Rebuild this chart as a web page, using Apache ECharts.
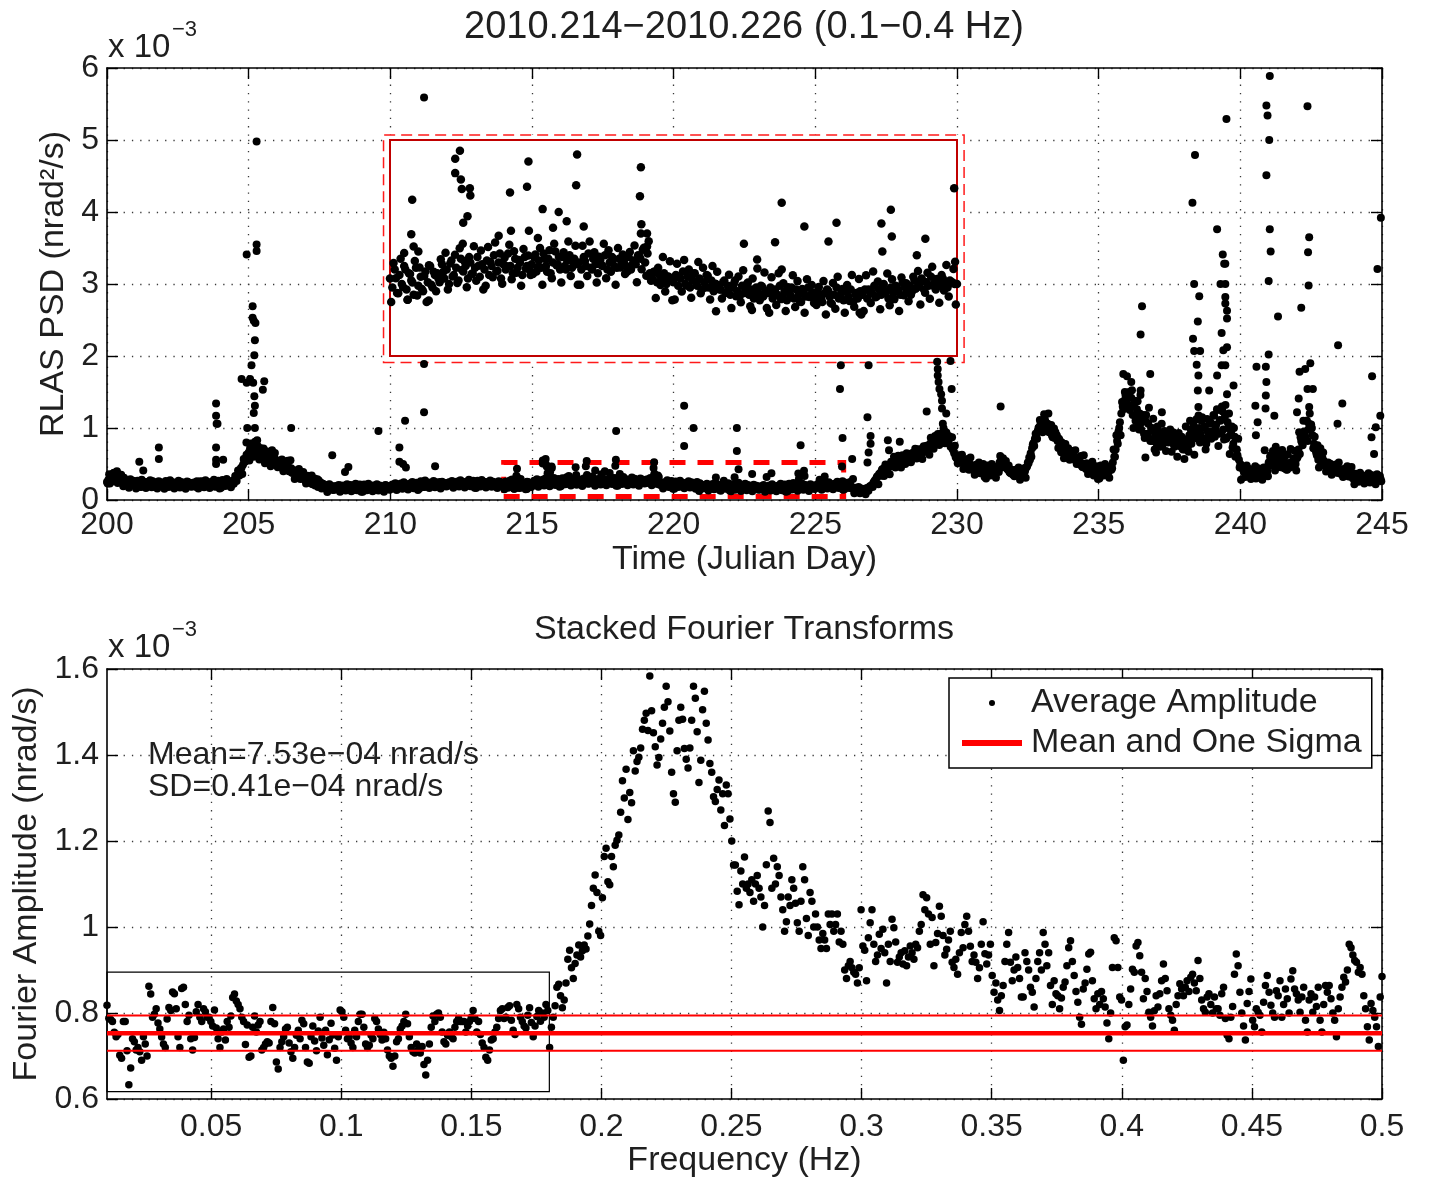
<!DOCTYPE html>
<html>
<head>
<meta charset="utf-8">
<script src="https://cdn.jsdelivr.net/npm/echarts/dist/echarts.min.js"></script>
<style>html,body{margin:0;padding:0;background:#fff;}#chart{width:1430px;height:1182px;}</style>
</head>
<body>
<div id="chart"></div>
<script>
// ---------------- DATA ----------------
// Top panel: RLAS PSD (x 1e-3 nrad^2/s), values stored in thousandths of the axis unit
const psdStart = 200;
const psdStep = 0.05; // day
// samples at 200.000, 200.050, ...
const psdBand = [
250,280,230,300,340,380,320,400,360,300,350,280,310,260,230,270,220,250,210,240,
220,190,240,210,180,230,200,220,250,190,230,210,260,220,180,200,240,210,190,220,
210,180,220,200,240,190,210,230,180,220,200,240,210,190,230,200,220,250,210,190,
220,200,240,180,210,230,260,200,220,190,240,210,230,200,250,220,190,210,240,200,
230,200,240,210,220,250,210,230,260,240,280,310,340,360,410,450,490,530,580,620,
660,720,630,780,700,650,740,680,600,710,640,580,660,610,550,630,570,520,590,540,
500,550,470,520,440,490,530,420,460,400,440,380,410,360,390,340,370,320,350,300,
290,260,310,240,270,220,250,200,230,180,210,240,190,170,200,160,190,220,180,150,
170,190,150,180,160,200,140,170,190,150,180,160,210,170,140,180,160,190,150,170,
160,180,140,170,190,150,180,160,200,170,150,180,160,190,170,140,180,200,160,170,
180,200,160,190,170,210,180,220,190,170,200,180,210,190,230,200,180,210,190,220,
200,220,190,210,180,230,200,220,240,210,190,220,200,230,210,250,220,200,230,210,
220,240,210,230,200,250,220,240,210,260,230,210,240,220,250,230,200,220,240,210,
230,210,240,220,200,230,210,250,220,240,210,230,200,220,240,210,230,250,220,200,
215,190,240,175,225,200,250,185,230,210,170,245,195,220,180,235,205,250,190,225,
230,205,255,215,240,200,265,225,245,210,270,235,250,215,260,230,245,275,220,255,
240,265,225,250,280,235,260,215,255,240,285,250,230,270,245,260,225,275,250,240,
255,275,235,265,245,285,250,270,230,260,290,255,240,275,250,265,280,245,270,255,
260,240,275,250,285,245,270,255,230,265,250,280,240,260,275,250,245,270,255,265,
250,275,240,265,255,280,270,295,260,285,230,215,235,205,225,210,230,200,220,215,
205,225,195,215,235,200,220,190,210,230,195,215,185,205,225,190,210,180,200,195,
185,205,175,195,170,190,210,180,165,195,175,200,170,185,160,190,175,195,165,180,
175,190,160,185,170,195,165,180,155,175,190,160,185,170,150,180,165,190,170,175,
160,180,170,150,175,185,165,145,170,190,160,175,155,180,165,185,150,170,160,180,
170,185,160,180,175,195,165,185,170,200,180,160,190,175,195,185,170,205,190,180,
195,180,210,190,200,215,185,205,195,220,200,185,210,195,215,200,190,210,205,200,
200,190,210,180,170,190,160,150,170,140,150,130,140,120,150,130,160,140,170,190,
210,240,270,300,330,360,380,420,400,450,430,480,460,500,470,520,490,540,510,550,
530,570,550,600,560,620,580,640,590,650,610,670,630,690,650,710,660,720,680,740,
720,780,740,820,760,850,790,880,810,920,840,960,860,900,800,860,740,700,650,600,
580,620,540,590,510,560,480,530,460,500,440,480,420,470,400,450,380,430,410,390,
380,430,360,410,350,400,440,380,420,470,520,480,560,530,500,450,420,390,370,410,
360,400,350,390,340,380,420,370,400,450,520,590,650,720,790,850,910,960,1010,1060,
1100,1050,1120,980,1060,940,1000,900,950,860,900,820,850,770,800,720,750,680,700,640,
660,600,620,560,580,520,540,490,510,460,480,430,450,410,430,390,420,380,400,370,
390,360,410,350,400,370,430,390,460,420,520,600,700,820,950,1080,1200,1300,1380,1450,
1350,1480,1250,1420,1180,1330,1100,1260,1050,1200,980,1150,920,1100,880,1060,850,1000,820,950,
900,780,950,820,880,760,920,840,870,800,940,810,880,770,860,800,830,750,800,720,
780,700,820,740,900,980,860,1050,950,1120,880,1000,920,1150,850,1020,780,950,880,1080,
950,1180,880,1050,1250,920,1100,1300,980,1150,850,1080,1200,900,1020,780,880,700,620,560,
500,450,420,380,400,350,370,330,360,310,340,300,350,320,380,340,410,370,450,400,
520,600,480,680,560,740,620,500,580,460,520,440,500,420,480,450,520,470,540,500,
580,700,640,820,760,950,880,1100,980,1200,1050,900,780,700,620,560,600,520,580,540,
500,460,520,440,490,420,470,400,450,380,430,360,410,350,390,340,380,330,360,320,
350,310,340,290,330,280,320,270,310,260,300,250,290,270,310,260,300,280,320,290
];
// interleaved samples at 200.025, 200.075, ...
const psdBand2 = [
230,356,307,258,370,279,335,237,321,293,303,191,282,212,254,170,289,226,268,205,
160,268,226,184,280,202,250,166,238,214,274,178,256,196,232,160,262,208,244,190,
155,263,221,179,275,197,245,161,233,209,269,173,251,191,227,155,257,203,239,185,
190,244,208,262,160,232,196,256,178,274,214,238,166,250,202,280,184,226,268,160,
170,278,236,194,290,212,260,176,248,224,334,264,410,340,440,360,570,530,630,590,
550,784,693,602,810,641,745,563,719,667,717,509,678,548,626,470,691,574,652,535,
455,536,482,563,400,508,454,544,398,551,380,400,290,410,310,430,290,350,390,280,
230,338,295,254,340,262,300,226,288,270,236,158,226,164,202,110,212,158,194,140,
142,192,159,208,115,181,148,203,131,220,164,186,120,197,153,225,137,175,214,115,
115,214,175,137,225,153,197,120,186,164,220,131,203,148,181,115,208,159,192,142,
167,217,184,233,140,206,173,228,156,245,189,211,145,222,178,250,162,200,239,140,
160,259,220,182,270,198,242,165,231,209,264,176,248,193,226,160,253,204,237,187,
197,247,214,263,170,236,203,258,186,275,219,241,175,252,208,280,192,230,269,170,
167,266,227,189,277,205,249,172,238,216,271,183,255,200,233,167,260,211,244,194,
150,258,216,174,270,192,240,156,228,204,264,168,246,186,222,150,252,198,234,180,
215,269,233,287,185,257,221,281,203,299,239,263,191,275,227,305,209,251,293,185,
195,303,261,219,315,237,285,201,273,249,309,213,291,231,267,195,297,243,279,225,
228,282,246,300,198,270,234,294,216,312,252,276,204,288,240,318,222,264,306,198,
198,306,264,222,318,240,288,204,276,252,312,216,294,234,270,198,300,246,282,228,
235,289,253,307,205,277,241,301,223,319,209,233,161,245,197,275,179,221,263,155,
157,256,218,179,267,196,240,162,229,207,261,174,245,190,223,157,250,201,234,185,
160,210,177,226,133,199,166,221,149,238,182,204,138,215,171,243,155,193,232,133,
120,219,180,142,230,158,202,125,191,169,224,136,208,153,186,120,213,164,197,147,
142,192,159,208,115,181,148,203,131,220,164,186,120,197,153,225,137,175,214,115,
125,224,185,147,235,163,207,130,196,174,229,141,213,158,191,125,218,169,202,152,
170,220,187,236,143,209,176,231,159,248,193,214,148,225,182,253,165,203,242,143,
150,240,205,170,250,170,175,95,145,125,180,95,160,110,145,80,165,130,190,190,
180,252,234,322,220,348,336,432,334,492,412,474,358,530,476,600,452,538,614,510,
450,622,559,500,650,596,640,524,654,624,711,577,704,618,694,570,748,676,754,700,
630,864,773,712,890,821,915,763,919,887,997,789,938,788,886,740,871,722,752,585,
510,600,540,630,430,540,480,570,420,590,440,470,350,490,390,520,370,440,500,320,
300,480,410,340,500,370,450,310,430,390,610,450,580,480,540,430,480,380,420,350,
330,420,360,450,280,400,340,440,310,470,510,560,600,770,750,920,850,1000,1110,1000,
940,1192,1084,986,1200,970,1040,870,992,940,896,722,828,662,776,580,778,650,720,560,
590,680,600,690,500,590,520,610,460,620,470,510,360,490,380,530,340,400,470,290,
300,480,410,340,500,370,450,310,430,440,700,600,900,780,1000,900,1360,1260,1500,1350,
1275,1500,1300,1525,1000,1380,1130,1370,980,1460,1080,1180,860,1180,920,1280,820,1000,1130,700,
660,1020,880,740,1060,790,960,680,920,840,980,670,940,740,860,600,930,760,880,700,
570,1020,845,670,1100,780,980,630,925,855,1175,800,1100,850,1010,700,1125,900,1060,850,
900,1170,990,1260,750,1110,930,1230,840,1320,870,1000,640,950,730,1000,600,700,850,450,
280,460,390,320,480,350,430,290,410,370,470,310,440,340,400,280,450,360,420,330,
485,620,530,665,410,590,500,650,455,695,545,605,425,635,515,710,470,575,680,410,
600,940,870,800,1100,940,1100,820,1060,980,1000,720,880,660,760,450,720,540,660,480,
395,476,422,503,350,458,404,494,377,521,390,417,320,435,363,470,328,400,460,300,
220,364,308,252,380,276,340,228,324,292,372,244,348,268,316,220,356,284,332,260
];
// Isolated high readings [day, value in thousandths]
const psdSpikes = [
[201.14,530],[201.28,410],[201.83,730],[201.83,570],[203.85,1340],[203.85,1170],[203.87,1060],[203.9,1060],
[203.85,730],[203.85,560],[203.85,500],[204.1,560],[204.93,3410],[205.28,3550],[205.28,3460],[205.28,4980],
[205.14,2690],[205.14,2530],[205.18,2490],[205.24,2460],[205.22,2220],[205.2,2010],[205.1,1870],[204.75,1680],
[204.93,1630],[205.05,1680],[205.16,1630],[205.55,1650],[205.5,1530],[205.2,1440],[205.22,1310],[205.18,1210],
[205.22,1000],[204.95,1000],[204.92,800],[205.3,830],[206.5,1000],[207.95,620],[208.52,460],[208.4,390],
[209.58,960],[210.32,730],[210.32,530],[210.45,500],[210.55,450],[210.52,1100],[211.19,1220],[211.19,1890],
[211.19,5590],[211.58,470],
[214.47,434],[214.45,338],[214.5,304],[214.3,286],[214.6,290],[214.82,154],[214.37,156],
[215.38,548],[215.48,570],[215.38,508],[215.5,490],[215.52,464],[215.69,466],[215.7,446],[215.64,388],[215.55,370],[215.54,312],
[216.54,454],[216.9,470],[216.93,540],[217.23,408],[217.57,400],[217.74,374],[217.45,356],[218.1,360],[216.56,348],[216.3,334],[216.94,348],[217.13,328],
[217.96,560],[217.94,474],[217.97,960],
[219.31,524],[219.29,444],[219.32,366],[219.31,340],[219.44,340],[219.44,304],
[220.37,1310],[220.7,1000],[220.37,750],[220.9,124],
[221.49,312],[221.77,268],[221.66,128],[222.29,426],[222.15,316],[222.29,240],[222.23,1000],[222.23,680],
[222.77,360],[223.28,318],[223.45,370],[223.94,120],
[224.4,368],[224.6,406],[224.62,332],[224.42,290],[224.48,760],
[225.33,326],[225.15,280],[225.94,466],[225.96,262],[225.87,1540],[225.9,1870],[225.96,860],
[226.88,1870],[226.84,1150],[226.95,890],[226.95,780],[226.88,660],[226.84,520],[226.3,570],[226.33,290],
[227.56,830],[227.98,810],[227.6,690],
[228.93,1230],[229.3,1920],[229.32,1820],[229.32,1730],[229.35,1640],[229.38,1540],[229.44,1470],[229.47,1380],
[229.47,1270],[229.62,1200],[229.5,1060],[229.77,1930],[229.81,1540],
[231.54,1300],[233.81,770],
[235.87,1750],[236.0,1720],[236.15,1640],[236.48,1520],[236.48,2300],[236.53,2690],[236.82,1750],[237.23,1220],[236.65,590],
[238.31,4130],[238.4,4790],[238.37,3000],[238.55,2830],[238.5,2480],[238.33,2240],[238.37,2070],[238.58,2070],
[238.46,1880],[238.52,1730],[238.5,1520],[238.52,1290],[238.9,1520],
[239.18,3760],[239.38,3410],[239.43,3280],[239.47,3280],[239.3,3000],[239.47,3000],[239.47,2820],[239.47,2730],
[239.53,2630],[239.53,2520],[239.34,2320],[239.53,2120],[239.4,2080],[239.18,1730],[239.34,1870],[239.47,1870],
[239.53,1470],[239.76,1590],[239.51,5290],
[240.57,1850],[240.9,1850],[240.92,1640],[240.9,1450],[240.89,1270],[240.92,5480],[240.96,5340],[241.02,5000],
[240.92,4510],[241.04,5890],[241.04,3760],[241.07,3450],[241.0,3040],[241.0,2020],[241.2,1170],[241.33,2550],
[240.61,1080],[240.53,1310],[240.55,900],[240.86,690],
[242.37,5470],[242.43,3650],[242.39,3440],[242.41,2980],[242.15,2670],[242.09,1780],[242.29,1820],[242.47,1900],
[242.37,1540],[242.56,1540],[242.06,1410],[242.43,1290],[242.0,1220],[243.45,2150],[243.6,1340],[243.43,1060],
[244.65,1720],[244.84,3210],[244.96,3920],[244.63,870],[244.78,1010],[244.94,1170],[244.72,640]
];

// Bottom panel: stacked Fourier amplitude (x 1e-3 nrad/s), stored in thousandths
const fftStart = 0.01;
const fftStep = 0.0007; // Hz
const fftAmp = [
818,788,785,780,755,745,750,702,695,780,
780,712,633,672,740,733,714,720,710,690,
745,728,700,862,844,790,797,810,777,763,
744,728,720,786,813,806,849,845,810,745,
720,857,860,820,780,795,740,714,743,803,
820,790,780,810,803,790,790,780,770,807,
765,740,720,756,763,737,780,767,793,836,
844,828,820,810,790,780,727,772,697,700,
767,793,756,772,780,714,720,728,733,730,
780,813,775,686,670,720,733,745,763,767,
730,710,695,720,748,760,740,783,775,720,
686,683,745,770,735,712,758,790,742,725,
760,703,738,776,749,718,690,745,807,803,
790,760,740,745,730,720,760,745,780,797,
797,767,728,720,725,748,740,787,780,763,
750,737,755,740,714,700,695,676,700,733,
740,763,770,780,797,775,745,720,710,707,
728,715,707,722,680,656,690,728,767,793,
780,797,800,790,756,733,728,748,756,745,
740,767,780,787,780,780,780,756,770,780,
790,806,787,756,780,750,730,720,697,690,
714,737,740,756,767,787,806,810,787,790,
813,817,783,760,750,820,810,790,780,770,
765,795,812,778,745,770,792,806,781,800,
790,820,806,720,767,790,817,860,867,840,
812,830,870,925,946,905,880,915,935,958,
930,945,958,949,979,1007,1050,1090,1121,1080,
990,980,1068,1164,1183,1105,1098,1164,1140,1190,
1202,1214,1267,1340,1300,1367,1250,1313,1289,1410,
1363,1385,1395,1416,1460,1481,1497,1457,1584,1503,
1452,1419,1377,1394,1437,1474,1511,1560,1524,1456,
1360,1310,1290,1410,1481,1511,1483,1415,1390,1370,
1416,1481,1560,1532,1454,1336,1388,1505,1548,1474,
1435,1380,1360,1303,1292,1320,1342,1272,1310,1236,
1330,1310,1251,1200,1144,1144,1083,1052,1130,1100,
1163,1090,1100,1080,1110,1060,1100,1120,1090,1070,
1000,1050,1145,1270,1243,1090,1160,1100,1140,1120,
1070,1040,990,1012,1070,1050,1110,1090,1055,1010,
990,1060,1140,1110,1020,980,1080,1060,1000,1030,
1000,970,950,985,970,950,1030,1006,1030,990,
1006,1030,965,990,960,900,880,910,920,905,
895,890,870,905,1040,956,946,875,975,1010,
1040,960,920,935,983,950,995,940,870,960,
920,1018,998,965,918,930,940,914,945,910,
930,956,940,925,960,952,990,1006,1075,1040,
1068,1030,960,1022,910,964,985,1048,1025,980,
935,948,970,990,918,906,925,890,940,987,
952,1006,1025,990,955,920,935,918,880,905,
960,1012,938,914,935,960,887,848,870,830,
806,840,864,920,960,987,918,875,900,930,
906,880,837,837,940,920,900,860,848,814,
880,920,940,900,987,960,910,940,864,820,
875,845,840,810,835,860,872,910,952,968,
920,887,850,825,790,774,856,870,902,937,
941,875,833,810,845,820,850,833,814,777,
740,800,906,975,968,906,837,830,690,768,
772,820,856,902,895,956,964,933,895,833,
880,850,802,790,770,805,840,814,845,875,
914,880,852,810,795,783,760,820,840,868,
856,840,860,875,850,883,890,870,852,922,
880,830,810,802,837,845,820,800,837,810,
810,795,845,860,787,748,740,790,815,890,
937,910,848,800,770,737,822,850,879,783,
768,810,802,795,756,825,864,887,848,818,
800,790,852,840,875,790,820,856,833,800,
879,898,856,845,830,802,837,860,783,756,
830,845,802,837,815,860,783,756,820,864,
848,864,833,800,783,745,810,837,860,883,
872,900,960,952,935,922,918,895,906,890,
840,810,768,737,822,806,790,768,722,837,
885
];
const fftMean = 0.753;   // x 1e-3 nrad/s
const fftSD = 0.041;     // x 1e-3 nrad/s
const freqTicks = [0.05,0.1,0.15,0.2,0.25,0.3,0.35,0.4,0.45,0.5];

// ---------------- BUILD ----------------
const psdData = psdBand.map((v, i) => [+(psdStart + i * psdStep).toFixed(3), v / 1000])
  .concat(psdBand2.map((v, i) => [+(psdStart + psdStep / 2 + i * psdStep).toFixed(3), v / 1000]))
  .concat(psdSpikes.map(p => [p[0], p[1] / 1000]));
const insetT = [214, 226], insetV = [0, 0.6];
const insetData = psdData.filter(p => p[0] >= insetT[0] && p[0] <= insetT[1] && p[1] <= insetV[1]);
const fftData = fftAmp.map((v, i) => [+(fftStart + i * fftStep).toFixed(4), v / 1000]);
const fLo = fftData[0][0], fHi = fftData[fftData.length - 1][0];

const FONT = '"Liberation Sans", Arial, Helvetica, sans-serif';
const TXT = '#1f1f1f';
const axisLine = {show: true, onZero: false, lineStyle: {color: '#000', width: 1.6}};
const tick = {show: true, inside: true, length: 11, lineStyle: {color: '#000', width: 1.4}};
const grid = {show: true, lineStyle: {color: '#3a3a3a', width: 1.3, type: [1.3, 7]}};
const lbl = (m) => ({color: TXT, fontFamily: FONT, fontSize: 32, margin: m});
const nameStyle = {color: TXT, fontFamily: FONT, fontSize: 34};
const dot = {color: '#000', opacity: 1};

const chart = echarts.init(document.getElementById('chart'), null, {renderer: 'canvas'});
chart.setOption({
  animation: false,
  backgroundColor: '#fff',
  grid: [
    {left: 107, top: 68, width: 1275, height: 432},
    {left: 107, top: 669, width: 1275, height: 430},
    {left: 390, top: 140, width: 567, height: 216}
  ],
  xAxis: [
    {gridIndex: 0, type: 'value', min: 200, max: 245, interval: 5, position: 'bottom',
     axisLine, axisTick: tick, axisLabel: lbl(9), splitLine: grid,
     name: 'Time (Julian Day)', nameLocation: 'middle', nameGap: 43, nameTextStyle: nameStyle},
    {gridIndex: 0, type: 'value', min: 200, max: 245, interval: 5, position: 'top',
     axisLine, axisTick: tick, axisLabel: {show: false}, splitLine: {show: false}},
    {gridIndex: 1, type: 'value', min: 0.01, max: 0.5, splitNumber: 10, position: 'bottom',
     axisLine, axisTick: Object.assign({customValues: freqTicks}, tick),
     axisLabel: Object.assign({customValues: freqTicks}, lbl(12)), splitLine: grid,
     name: 'Frequency (Hz)', nameLocation: 'middle', nameGap: 44, nameTextStyle: nameStyle},
    {gridIndex: 1, type: 'value', min: 0.01, max: 0.5, position: 'top',
     axisLine, axisTick: Object.assign({customValues: freqTicks}, tick),
     axisLabel: {show: false}, splitLine: {show: false}},
    {gridIndex: 2, type: 'value', min: insetT[0], max: insetT[1], show: false}
  ],
  yAxis: [
    {gridIndex: 0, type: 'value', min: 0, max: 6, interval: 1, position: 'left',
     axisLine, axisTick: tick, axisLabel: lbl(8), splitLine: grid,
     name: 'RLAS PSD (nrad²/s)', nameLocation: 'middle', nameGap: 33, nameTextStyle: nameStyle},
    {gridIndex: 0, type: 'value', min: 0, max: 6, interval: 1, position: 'right',
     axisLine, axisTick: tick, axisLabel: {show: false}, splitLine: {show: false}},
    {gridIndex: 1, type: 'value', min: 0.6, max: 1.6, interval: 0.2, position: 'left',
     axisLine, axisTick: tick, axisLabel: lbl(8), splitLine: grid,
     name: 'Fourier Amplitude (nrad/s)', nameLocation: 'middle', nameGap: 63, nameTextStyle: nameStyle},
    {gridIndex: 1, type: 'value', min: 0.6, max: 1.6, interval: 0.2, position: 'right',
     axisLine, axisTick: tick, axisLabel: {show: false}, splitLine: {show: false}},
    {gridIndex: 2, type: 'value', min: insetV[0], max: insetV[1], show: false}
  ],
  legend: {
    data: [{name: 'Average Amplitude', icon: 'circle'}, {name: 'Mean and One Sigma', icon: 'rect'}],
    orient: 'vertical', left: 949, top: 678, itemWidth: 60, itemHeight: 6, itemGap: 4,
    padding: [7, 10, 7, 13], borderColor: '#000', borderWidth: 1.5, backgroundColor: '#fff',
    selectedMode: false,
    textStyle: {fontFamily: FONT, fontSize: 34, color: TXT, lineHeight: 36, padding: [0, 0, 0, 4]}
  },
  graphic: [
    {type: 'text', x: 744, y: 28, silent: true,
     style: {text: '2010.214\u22122010.226 (0.1\u22120.4 Hz)', fontFamily: FONT, fontSize: 38, fill: TXT, align: 'center', verticalAlign: 'middle'}},
    {type: 'text', x: 108, y: 48, silent: true,
     style: {text: 'x 10', fontFamily: FONT, fontSize: 33, fill: TXT, align: 'left', verticalAlign: 'middle'}},
    {type: 'text', x: 172, y: 30, silent: true,
     style: {text: '\u22123', fontFamily: FONT, fontSize: 22, fill: TXT, align: 'left', verticalAlign: 'middle'}},
    {type: 'text', x: 744, y: 630, silent: true,
     style: {text: 'Stacked Fourier Transforms', fontFamily: FONT, fontSize: 34, fill: TXT, align: 'center', verticalAlign: 'middle'}},
    {type: 'text', x: 108, y: 648, silent: true,
     style: {text: 'x 10', fontFamily: FONT, fontSize: 33, fill: TXT, align: 'left', verticalAlign: 'middle'}},
    {type: 'text', x: 172, y: 630, silent: true,
     style: {text: '\u22123', fontFamily: FONT, fontSize: 22, fill: TXT, align: 'left', verticalAlign: 'middle'}},
    {type: 'text', x: 148, y: 755, silent: true,
     style: {text: 'Mean=7.53e\u221204 nrad/s', fontFamily: FONT, fontSize: 32, fill: TXT, align: 'left', verticalAlign: 'middle'}},
    {type: 'text', x: 148, y: 787, silent: true,
     style: {text: 'SD=0.41e\u221204 nrad/s', fontFamily: FONT, fontSize: 32, fill: TXT, align: 'left', verticalAlign: 'middle'}}
  ],
  series: [
    {type: 'scatter', name: 'RLAS PSD', xAxisIndex: 0, yAxisIndex: 0, data: psdData,
     symbolSize: 8, itemStyle: dot, clip: false, silent: true, z: 2,
     markArea: {silent: true, label: {show: false},
       data: [
         [{coord: [209.76, 1.91], itemStyle: {color: '#fff', borderColor: '#ff1a1a', borderWidth: 1.5, borderType: [11, 6]}},
          {coord: [230.25, 5.07]}],
         [{coord: [insetT[0], 0.05], itemStyle: {color: 'rgba(0,0,0,0)', borderColor: '#ff0000', borderWidth: 5, borderType: [16, 12]}},
          {coord: [insetT[1], 0.52]}]
       ]}},
    {type: 'scatter', name: 'inset', xAxisIndex: 4, yAxisIndex: 4, data: insetData,
     symbolSize: 8.5, itemStyle: dot, clip: false, silent: true, z: 6,
     markArea: {silent: true, label: {show: false},
       data: [[{coord: [insetT[0], insetV[0]], itemStyle: {color: 'rgba(0,0,0,0)', borderColor: '#c00000', borderWidth: 2}},
               {coord: [insetT[1], insetV[1]]}]]}},
    {type: 'scatter', name: 'Average Amplitude', xAxisIndex: 2, yAxisIndex: 2, data: fftData,
     symbolSize: 7.5, itemStyle: dot, clip: false, silent: true, z: 2,
     markArea: {silent: true, label: {show: false},
       data: [[{coord: [fLo, 0.617], itemStyle: {color: 'rgba(0,0,0,0)', borderColor: '#000', borderWidth: 1.2}},
               {coord: [0.18, 0.895]}]]}},
    {type: 'line', name: 'Mean and One Sigma', xAxisIndex: 2, yAxisIndex: 2,
     data: [[fLo, fftMean], [fHi, fftMean]], symbol: 'none', silent: true, z: 4,
     lineStyle: {color: '#ff0000', width: 4.5}, itemStyle: {color: '#ff0000'}},
    {type: 'line', name: 'sigma+', xAxisIndex: 2, yAxisIndex: 2,
     data: [[fLo, fftMean + fftSD], [fHi, fftMean + fftSD]], symbol: 'none', silent: true, z: 4,
     lineStyle: {color: '#ff0000', width: 2}},
    {type: 'line', name: 'sigma-', xAxisIndex: 2, yAxisIndex: 2,
     data: [[fLo, fftMean - fftSD], [fHi, fftMean - fftSD]], symbol: 'none', silent: true, z: 4,
     lineStyle: {color: '#ff0000', width: 2}}
  ]
});
</script>
</body>
</html>
